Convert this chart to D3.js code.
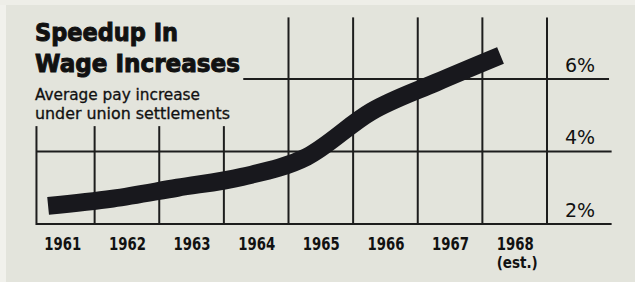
<!DOCTYPE html>
<html>
<head>
<meta charset="utf-8">
<script src="https://cdn.jsdelivr.net/npm/d3@7"></script>
<style>
  html, body { margin: 0; padding: 0; background: #e4e5dd; }
  svg { display: block; }
</style>
</head>
<body>
<svg id="chart" width="635" height="282"></svg>
<script>
'use strict'

// values
const years = [1961, 1962, 1963, 1964, 1965, 1966, 1967, 1968]
const payIncrease = [2.5, 2.7, 3.0, 3.3, 3.85, 5.1, 5.9, 6.65]
const pctTicks = [2, 4, 6]
const yearNotes = { 1968: '(est.)' }

const titleLines = ['Speedup In', 'Wage Increases']
const subtitleLines = ['Average pay increase', 'under union settlements']

const svg = d3.select('#chart')
const W = 635, H = 282

// x in years, band edges at half years
let x = d3.scaleLinear().domain([1960.5, 1968.5]).range([30, 547])
let y = d3.scaleLinear().domain([2, 6]).range([224, 79])

// paper
svg.append('rect').attr('width', W).attr('height', H).attr('fill', '#e3e4dc')
svg.append('rect').attr('width', 6).attr('height', H).attr('fill', '#f1f1ec')
svg.append('rect').attr('width', W).attr('height', 5).attr('fill', '#eeeee8')

let grid = svg.append('g').attr('stroke', '#1d1d1d').attr('stroke-width', 2)

// horizontal rules
let hRules = [
    { v: 2, from: 1960.6, to: 1969.5 },
    { v: 4, from: 1960.6, to: 1969.5 },
    { v: 6, from: 1963.8, to: 1969.46 }
]
grid.selectAll('line.h').data(hRules).enter().append('line')
    .attr('class', 'h')
    .attr('x1', d => x(d.from)).attr('x2', d => x(d.to))
    .attr('y1', d => y(d.v)).attr('y2', d => y(d.v))

// vertical rules between years
let vRules = [1960.6].concat(years.map(d => d + 0.5))
grid.selectAll('line.v').data(vRules).enter().append('line')
    .attr('class', 'v')
    .attr('x1', d => x(d)).attr('x2', d => x(d))
    .attr('y1', y(2) + 1)
    .attr('y2', d => y(d < 1964 ? 4.7 : 7.7))

// the thick line, drawn a little ahead of each year's label
let line = d3.line()
    .x((d, i) => x(years[i] - 0.22))
    .y(d => y(d))
    .curve(d3.curveMonotoneX)

svg.append('path')
    .datum(payIncrease)
    .attr('d', line)
    .attr('fill', 'none')
    .attr('stroke', '#18181d')
    .attr('stroke-width', 18)
    .attr('stroke-linecap', 'butt')
    .attr('stroke-linejoin', 'round')

// year labels
let xAxis = svg.append('g')
    .attr('transform', `translate(0, ${y(2)})`)
    .call(d3.axisBottom(x).tickValues(years).tickFormat(d3.format('d')).tickSize(0).tickPadding(0))
xAxis.select('.domain').remove()
xAxis.selectAll('text')
    .attr('y', 26)
    .attr('dy', 0)
    .attr('fill', '#111')
    .attr('font-family', '"Liberation Sans Narrow", "DejaVu Sans Condensed", sans-serif')
    .attr('font-weight', 'bold')
    .attr('font-size', '18px')
    .attr('textLength', 37)
    .attr('lengthAdjust', 'spacingAndGlyphs')
xAxis.selectAll('.tick').filter(d => yearNotes[d])
    .append('text')
    .attr('y', 44)
    .attr('fill', '#111')
    .attr('font-family', '"Liberation Sans Narrow", "DejaVu Sans Condensed", sans-serif')
    .attr('font-weight', 'bold')
    .attr('font-size', '15px')
    .attr('text-anchor', 'middle')
    .attr('x', 2)
    .text(d => yearNotes[d])

// percent labels
let yAxis = svg.append('g')
    .attr('transform', `translate(580, 0)`)
    .call(d3.axisRight(y).tickValues(pctTicks).tickFormat(d => d + '%').tickSize(0).tickPadding(0))
yAxis.select('.domain').remove()
yAxis.selectAll('text')
    .attr('x', 0)
    .attr('dy', -8)
    .attr('text-anchor', 'middle')
    .attr('fill', '#111')
    .attr('font-family', '"DejaVu Sans", sans-serif')
    .attr('font-size', '19px')

// titles
svg.append('g').selectAll('text').data(titleLines).enter().append('text')
    .attr('x', 35)
    .attr('y', (d, i) => 41 + i * 31)
    .attr('fill', '#111')
    .attr('font-family', '"DejaVu Sans", sans-serif')
    .attr('font-weight', 'bold')
    .attr('font-size', '24px')
    .attr('textLength', (d, i) => [143, 205][i])
    .attr('lengthAdjust', 'spacingAndGlyphs')
    .attr('stroke', '#111').attr('stroke-width', 1)
    .text(d => d)

svg.append('g').selectAll('text').data(subtitleLines).enter().append('text')
    .attr('x', 35)
    .attr('y', (d, i) => 100 + i * 19)
    .attr('fill', '#111')
    .attr('font-family', '"DejaVu Sans Condensed", "Liberation Sans Narrow", sans-serif')
    .attr('font-size', '16px')
    .attr('stroke', '#111').attr('stroke-width', 0.3)
    .attr('textLength', (d, i) => [165, 195][i])
    .attr('lengthAdjust', 'spacingAndGlyphs')
    .text(d => d)
</script>
</body>
</html>
